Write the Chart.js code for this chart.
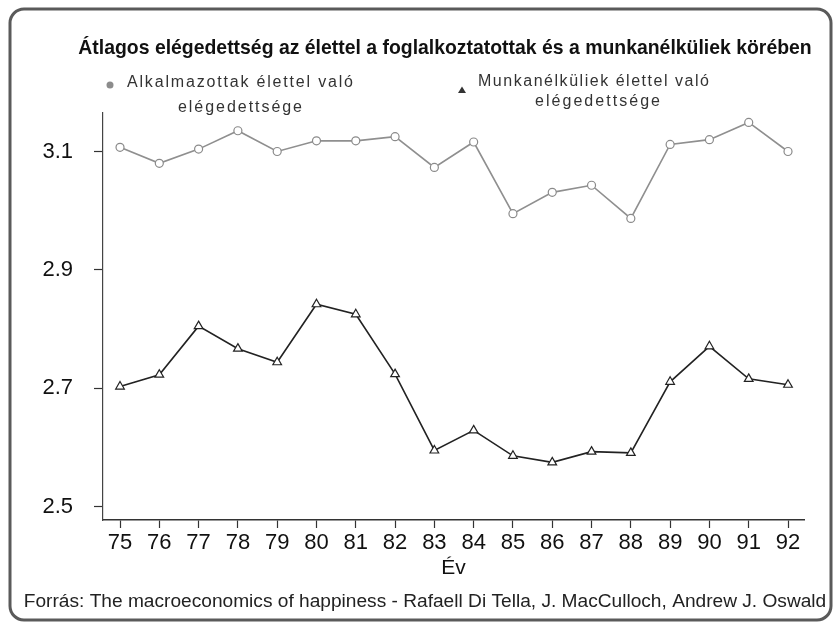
<!DOCTYPE html>
<html>
<head>
<meta charset="utf-8">
<script src="https://cdn.jsdelivr.net/npm/chart.js@4.4.1/dist/chart.umd.min.js"></script>
<style>
  html, body { margin: 0; padding: 0; background: #ffffff; }
  #wrap { width: 837px; height: 627px; position: relative; }
</style>
</head>
<body>
<div id="wrap"><canvas id="c" width="837" height="627"></canvas></div>
<script>
// ---- Data ----
const years = [75, 76, 77, 78, 79, 80, 81, 82, 83, 84, 85, 86, 87, 88, 89, 90, 91, 92];
const yearLabels = ['75','76','77','78','79','80','81','82','83','84','85','86','87','88','89','90','91','92'];
const employedSatisfaction = [3.107, 3.080, 3.104, 3.135, 3.100, 3.118, 3.118, 3.125, 3.073, 3.116, 2.995, 3.031, 3.043, 2.987, 3.112, 3.120, 3.149, 3.100];
const unemployedSatisfaction = [2.703, 2.723, 2.805, 2.767, 2.744, 2.842, 2.825, 2.724, 2.595, 2.629, 2.586, 2.575, 2.593, 2.591, 2.711, 2.771, 2.716, 2.706];
const yTickValues = [2.5, 2.7, 2.9, 3.1];

const titleText = 'Átlagos elégedettség az élettel a foglalkoztatottak és a munkanélküliek körében';
const legendEmployed = ['Alkalmazottak élettel való', 'elégedettsége'];
const legendUnemployed = ['Munkanélküliek élettel való', 'elégedettsége'];
const xAxisTitle = 'Év';
const sourceText = 'Forrás: The macroeconomics of happiness - Rafaell Di Tella, J. MacCulloch, Andrew J. Oswald';

const FONT = '"Liberation Sans", Arial, Helvetica, sans-serif';

function toPoints(xs, ys) { return xs.map((x, i) => ({ x: x, y: ys[i] })); }

// draw text stretched/compressed to fit a width by scaling font size
function drawFitText(ctx, text, cx, cy, width, weight, color) {
  ctx.save();
  ctx.font = weight + ' 100px ' + FONT;
  const w = ctx.measureText(text).width;
  const size = 100 * width / w;
  ctx.font = weight + ' ' + size.toFixed(2) + 'px ' + FONT;
  ctx.fillStyle = color;
  ctx.textAlign = 'center';
  ctx.textBaseline = 'middle';
  ctx.fillText(text, cx, cy);
  ctx.restore();
}

// draw text with letter spacing so it spans [x0, x1]
function drawSpacedText(ctx, text, x0, x1, cy, size, color) {
  ctx.save();
  ctx.font = size + 'px ' + FONT;
  ctx.fillStyle = color;
  ctx.textAlign = 'left';
  ctx.textBaseline = 'middle';
  const chars = Array.from(text);
  const widths = chars.map(ch => ctx.measureText(ch).width);
  const total = widths.reduce((a, b) => a + b, 0);
  const gap = (x1 - x0 - total) / (chars.length - 1);
  let x = x0;
  chars.forEach((ch, i) => { ctx.fillText(ch, x, cy); x += widths[i] + gap; });
  ctx.restore();
}

const decorPlugin = {
  id: 'decor',
  beforeDraw(chart) {
    const ctx = chart.ctx;
    ctx.save();
    ctx.fillStyle = '#ffffff';
    ctx.fillRect(0, 0, chart.width, chart.height);
    ctx.restore();
  },
  afterDraw(chart) {
    const ctx = chart.ctx;
    // outer rounded frame
    ctx.save();
    ctx.strokeStyle = '#5a5a5a';
    ctx.lineWidth = 3;
    ctx.beginPath();
    ctx.roundRect(10, 9, 821, 611, 14);
    ctx.stroke();
    ctx.restore();

    // title
    drawFitText(ctx, titleText, 445, 49, 734, 'bold', '#111111');

    // legend: employed (grey dot)
    ctx.save();
    ctx.fillStyle = '#8c8c8c';
    ctx.beginPath();
    ctx.arc(110, 85, 3.5, 0, Math.PI * 2);
    ctx.fill();
    ctx.restore();
    drawSpacedText(ctx, legendEmployed[0], 127, 353, 83, 16, '#333333');
    drawSpacedText(ctx, legendEmployed[1], 178, 302, 108, 16, '#333333');

    // legend: unemployed (black triangle)
    ctx.save();
    ctx.fillStyle = '#333333';
    ctx.beginPath();
    ctx.moveTo(462, 86.5);
    ctx.lineTo(466, 93);
    ctx.lineTo(458, 93);
    ctx.closePath();
    ctx.fill();
    ctx.restore();
    drawSpacedText(ctx, legendUnemployed[0], 478, 709, 82, 16, '#333333');
    drawSpacedText(ctx, legendUnemployed[1], 535, 660, 102, 16, '#333333');

    // x-axis title
    ctx.save();
    ctx.font = '21px ' + FONT;
    ctx.fillStyle = '#111111';
    ctx.textAlign = 'center';
    ctx.textBaseline = 'middle';
    const area = chart.chartArea;
    ctx.fillText(xAxisTitle, (area.left + area.right) / 2, 568);
    ctx.restore();

    // source line
    drawFitText(ctx, sourceText, 425, 602, 803, 'normal', '#222222');
  }
};

new Chart(document.getElementById('c'), {
  type: 'line',
  data: {
    datasets: [
      {
        label: legendEmployed.join(' '),
        data: toPoints(years, employedSatisfaction),
        borderColor: '#8f8f8f',
        borderWidth: 1.6,
        pointStyle: 'circle',
        pointRadius: 4,
        pointBorderWidth: 1.2,
        pointBorderColor: '#8a8a8a',
        pointBackgroundColor: '#ffffff',
        tension: 0
      },
      {
        label: legendUnemployed.join(' '),
        data: toPoints(years, unemployedSatisfaction),
        borderColor: '#222222',
        borderWidth: 1.6,
        pointStyle: 'triangle',
        pointRadius: 5,
        pointBorderWidth: 1.2,
        pointBorderColor: '#222222',
        pointBackgroundColor: '#ffffff',
        tension: 0
      }
    ]
  },
  options: {
    responsive: false,
    animation: false,
    devicePixelRatio: 1,
    layout: { padding: { left: 0, right: 33, top: 113, bottom: 0 } },
    plugins: {
      legend: { display: false },
      title: { display: false },
      tooltip: { enabled: false }
    },
    scales: {
      x: {
        type: 'linear',
        min: 74.567,
        max: 92.407,
        afterFit(scale) { scale.height = 107; },
        afterBuildTicks(scale) { scale.ticks = years.map(v => ({ value: v })); },
        ticks: {
          autoSkip: false,
          maxRotation: 0,
          padding: 2,
          color: '#111111',
          font: { family: FONT, size: 22 },
          callback(value) { return yearLabels[years.indexOf(value)]; }
        },
        grid: { drawOnChartArea: false, drawTicks: true, tickLength: 8, color: '#333333', tickWidth: 1.2 },
        border: { display: true, color: '#333333', width: 1.5 }
      },
      y: {
        type: 'linear',
        min: 2.4776,
        max: 3.165,
        afterFit(scale) { scale.width = 103; },
        afterBuildTicks(scale) { scale.ticks = yTickValues.map(v => ({ value: v })); },
        ticks: {
          padding: 21,
          color: '#111111',
          font: { family: FONT, size: 22 },
          callback(value) { return value.toFixed(1); }
        },
        grid: { drawOnChartArea: false, drawTicks: true, tickLength: 9, color: '#333333', tickWidth: 1.2 },
        border: { display: true, color: '#444444', width: 1.2 }
      }
    }
  },
  plugins: [decorPlugin]
});
</script>
</body>
</html>
